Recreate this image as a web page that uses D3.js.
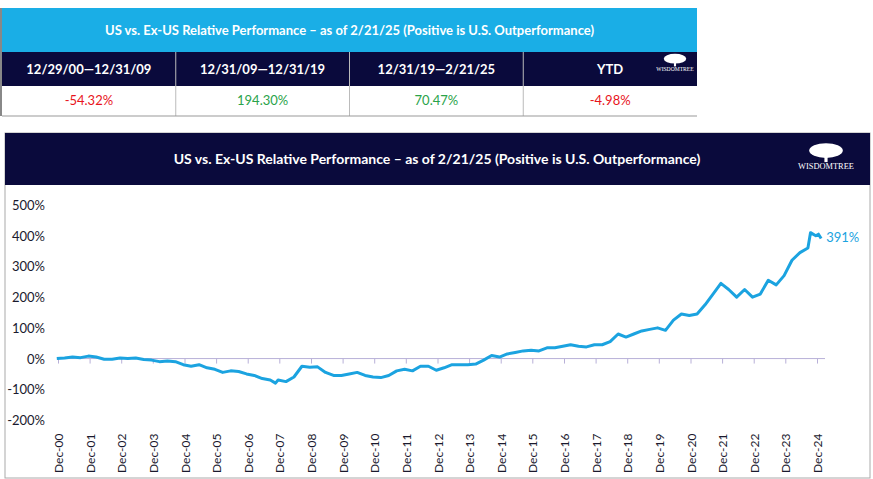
<!DOCTYPE html>
<html><head><meta charset="utf-8">
<script src="https://cdn.jsdelivr.net/npm/d3@7"></script>
<style>
body{margin:0;background:#fff;font-family:Lato,"Open Sans",sans-serif;}
</style></head>
<body>
<svg id="c" width="873" height="479"></svg>
<script>
// data
var title = "US vs. Ex-US Relative Performance \u2013 as of 2/21/25 (Positive is U.S. Outperformance)";
var periods = ["12/29/00\u201412/31/09", "12/31/09\u201412/31/19", "12/31/19\u20142/21/25", "YTD"];
var periodReturns = [-54.32, 194.30, 70.47, -4.98];

var dates = ["2000-12","2001-03","2001-06","2001-09","2001-12","2002-03","2002-06","2002-09","2002-12",
"2003-03","2003-06","2003-09","2003-12","2004-03","2004-06","2004-09","2004-12","2005-03","2005-06","2005-09","2005-12",
"2006-03","2006-06","2006-09","2006-12","2007-03","2007-06","2007-09","2007-11","2007-12","2008-03","2008-06","2008-09","2008-12",
"2009-03","2009-06","2009-09","2009-12","2010-03","2010-06","2010-09","2010-12","2011-03","2011-06","2011-09","2011-12",
"2012-03","2012-06","2012-09","2012-12","2013-03","2013-06","2013-09","2013-12","2014-03","2014-06","2014-09","2014-12",
"2015-03","2015-06","2015-09","2015-12","2016-03","2016-06","2016-09","2016-12","2017-03","2017-06","2017-09","2017-12",
"2018-03","2018-06","2018-09","2018-12","2019-03","2019-06","2019-09","2019-12","2020-03","2020-06","2020-09","2020-12",
"2021-03","2021-06","2021-09","2021-12","2022-03","2022-06","2022-09","2022-12","2023-03","2023-06","2023-09","2023-12",
"2024-03","2024-06","2024-09","2024-10","2024-12","2025-01","2025-02"];
var values = [0,2,5,3,8,5,-2,-2,2,
0,2,-3,-5,-10,-8,-10,-20,-25,-20,-30,-35,
-45,-40,-42,-50,-55,-65,-70,-80,-70,-75,-60,-25,-28,
-27,-45,-55,-55,-50,-45,-55,-60,-62,-55,-40,-35,
-40,-25,-25,-38,-30,-20,-20,-20,-18,-5,10,5,
15,20,25,27,25,35,35,40,45,40,38,45,
45,55,80,70,80,90,95,100,92,125,145,140,
145,175,210,245,225,200,225,200,210,255,240,270,
320,345,360,410,400,405,391];
var yTicks = [-200,-100,0,100,200,300,400,500];
var xTickYears = d3.range(2000, 2025);

var svg = d3.select("#c");
var parse = d3.timeParse("%Y-%m");
var data = dates.map(function(d, i){ return {date: parse(d), v: values[i]}; });

// ---- top table
var tblX = 2, tblW = 695;
svg.append("rect").attr("x", 0).attr("y", 8).attr("width", 2).attr("height", 108).attr("fill", "#888");
svg.append("rect").attr("x", tblX).attr("y", 8).attr("width", tblW).attr("height", 44).attr("fill", "#1aaee6");
svg.append("text").attr("x", tblX + tblW/2).attr("y", 35).attr("text-anchor", "middle")
  .attr("fill", "#fff").attr("font-weight", "bold").attr("font-size", 13).text(title);
var colX = d3.scaleBand().domain(periods).range([tblX, tblX + tblW]);
svg.append("rect").attr("x", tblX).attr("y", 52).attr("width", tblW).attr("height", 34).attr("fill", "#0a0a3c");
periods.forEach(function(p, i){
  var x = colX(p);
  if (i > 0) {
    svg.append("line").attr("x1", x).attr("x2", x).attr("y1", 52).attr("y2", 116).attr("stroke", "#bbb");
  }
  svg.append("text").attr("x", x + colX.bandwidth()/2).attr("y", 74).attr("text-anchor", "middle")
    .attr("fill", "#fff").attr("font-weight", "bold").attr("font-size", 13).text(p);
  svg.append("text").attr("x", x + colX.bandwidth()/2).attr("y", 105).attr("text-anchor", "middle")
    .attr("fill", periodReturns[i] < 0 ? "#e8141c" : "#2aa34a").attr("font-size", 13)
    .text(periodReturns[i].toFixed(2) + "%");
});
svg.append("line").attr("x1", tblX).attr("x2", tblX + tblW).attr("y1", 116).attr("y2", 116).attr("stroke", "#999");
// small logo
function logo(cx, cy, s) {
  var g = svg.append("g").attr("transform", "translate(" + cx + "," + cy + ") scale(" + s + ")");
  g.append("ellipse").attr("cx", 0).attr("cy", -9).attr("rx", 16).attr("ry", 7).attr("fill", "#fff");
  g.append("rect").attr("x", -1.5).attr("y", -4).attr("width", 3).attr("height", 6).attr("fill", "#fff");
  g.append("text").attr("x", 0).attr("y", 9).attr("text-anchor", "middle").attr("fill", "#fff")
    .attr("font-family", "Liberation Serif, serif").attr("font-size", 8).text("WISDOMTREE");
}
logo(675, 65, 0.7);

// ---- chart box
var boxX = 5, boxY = 133, boxW = 865, boxH = 345;
svg.append("rect").attr("x", boxX).attr("y", boxY).attr("width", boxW).attr("height", boxH)
  .attr("fill", "#fff").attr("stroke", "#aaa");
svg.append("rect").attr("x", boxX).attr("y", boxY).attr("width", boxW).attr("height", 52).attr("fill", "#0a0a3c");
svg.append("text").attr("x", 437).attr("y", 164).attr("text-anchor", "middle")
  .attr("fill", "#fff").attr("font-weight", "bold").attr("font-size", 14).text(title);
logo(826, 160, 1.05);

var x = d3.scaleTime().domain([new Date(2000, 11, 15), new Date(2024, 11, 15)]).range([58, 817]);
var y = d3.scaleLinear().domain([-200, 500]).range([420, 205]);

// y labels
svg.append("g").selectAll("text").data(yTicks).join("text")
  .attr("x", 45).attr("y", function(d){ return y(d) + 5; }).attr("text-anchor", "end")
  .attr("fill", "#1a1a2e").attr("font-size", 13).text(function(d){ return d + "%"; });

// x axis at zero
var xAxis = d3.axisBottom(x).tickValues(xTickYears.map(function(yr){ return new Date(yr, 11, 15); }))
  .tickFormat(d3.timeFormat("Dec-%y")).tickSize(5);
var ax = svg.append("g").attr("transform", "translate(0," + y(0) + ")").call(xAxis);
ax.select(".domain").attr("stroke", "#b8b0d8").attr("d", "M58,0H825");
ax.selectAll(".tick line").attr("stroke", "#b8b0d8");
ax.selectAll(".tick text").remove();
svg.append("g").selectAll("text").data(xTickYears).join("text")
  .attr("transform", function(d){ return "translate(" + (x(new Date(d, 11, 15)) + 5) + ",473) rotate(-90)"; })
  .attr("fill", "#1a1a2e").attr("font-size", 12).text(function(d){ return "Dec-" + String(d).slice(2); });

// line
svg.append("path").datum(data)
  .attr("fill", "none").attr("stroke", "#1ba3e0").attr("stroke-width", 3).attr("stroke-linejoin", "round")
  .attr("d", d3.line().x(function(d){ return x(d.date); }).y(function(d){ return y(d.v); }));
var last = data[data.length - 1];
svg.append("text").attr("x", x(last.date) + 5).attr("y", y(last.v) + 4)
  .attr("fill", "#1ba3e0").attr("font-size", 13).text(last.v + "%");
</script>
</body></html>
